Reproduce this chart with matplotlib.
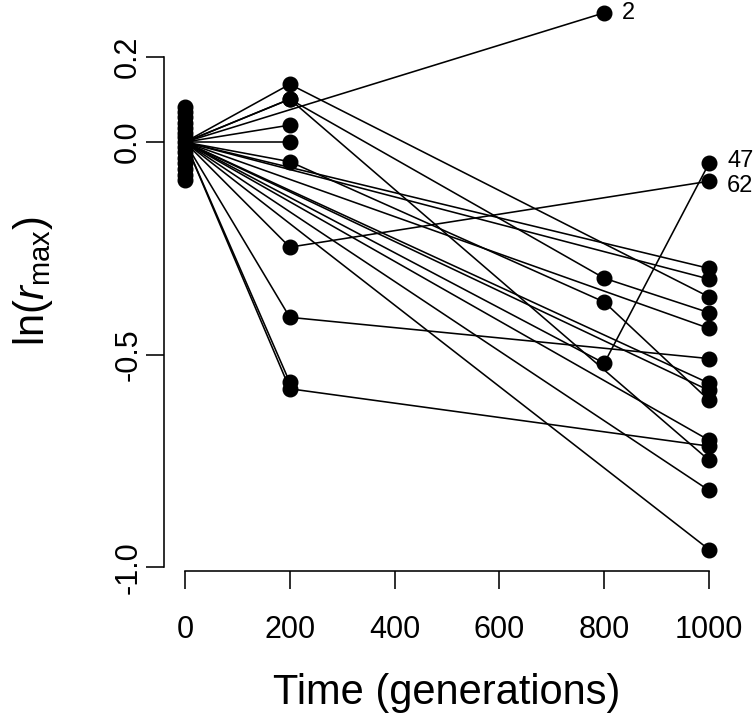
import numpy as np
import matplotlib
matplotlib.use("Agg")
import matplotlib.pyplot as plt

plt.rcParams['font.family'] = ['Liberation Sans', 'DejaVu Sans']
plt.rcParams['mathtext.fontset'] = 'custom'
plt.rcParams['mathtext.rm'] = 'Liberation Sans'
plt.rcParams['mathtext.it'] = 'Liberation Sans:italic'

# =============================================================================
# Data
# =============================================================================

# ancestor replicates at generation 0
anc_vals = [0.082, 0.071, 0.058, 0.045, 0.033, 0.022, 0.011, 0.0,
            -0.012, -0.024, -0.037, -0.050, -0.064, -0.077, -0.089]

# one entry per lineage, nan = not measured
gen200 = [np.nan, np.nan, -0.247, 0.136, 0.101, 0.101, 0.040, 0.000,
          -0.046, -0.412, -0.565, -0.580,
          np.nan, np.nan, np.nan, np.nan, np.nan, np.nan, np.nan, np.nan]
gen800 = [0.304, -0.520, np.nan, np.nan, -0.320, np.nan, np.nan, np.nan,
          -0.376, np.nan, np.nan, np.nan,
          np.nan, np.nan, np.nan, np.nan, np.nan, np.nan, np.nan, np.nan]
gen1000 = [np.nan, -0.050, -0.092, -0.364, -0.401, -0.748, np.nan, np.nan,
           -0.607, -0.509, np.nan, -0.715,
           -0.297, -0.322, -0.438, -0.567, -0.584, -0.701, -0.819, -0.958]
lineage_names = ['2', '47', '62'] + [''] * 17

times = [0, 200, 800, 1000]

# =============================================================================
# Figure
# =============================================================================

fig = plt.figure(figsize=(7.56, 7.24), dpi=100)
ax = fig.add_axes([164 / 756, 1 - 571 / 724, 566 / 756, (571 + 8.66) / 724])
ax.set_xlim(-40, 1040)
ax.set_ylim(-1.0085, 0.3545)

lw = 1.15
ms = 10.5
# small vertical nudges (pixels) so the 47/62 labels don't collide
label_dy = {'2': 0, '47': 2, '62': -5}

for i in range(len(gen1000)):
    vals = [0.0, gen200[i], gen800[i], gen1000[i]]
    tt = [t for t, v in zip(times, vals) if not np.isnan(v)]
    vv = [v for v in vals if not np.isnan(v)]
    ax.plot(tt, vv, color='black', lw=lw, zorder=2, clip_on=False)
    ax.plot(tt[1:], vv[1:], 'o', color='black', ms=ms, zorder=3, clip_on=False)
    name = lineage_names[i]
    if name:
        ax.annotate(name, (tt[-1], vv[-1]), xytext=(18, label_dy[name]),
                    textcoords='offset pixels', ha='left', va='center',
                    fontsize=17, annotation_clip=False)

ax.plot(np.zeros(len(anc_vals)), anc_vals, 'o', color='black', ms=ms,
        zorder=3, clip_on=False)

# R style axes
for s in ['top', 'right']:
    ax.spines[s].set_visible(False)
ax.spines['left'].set_bounds(-1.0, 0.2)
ax.spines['bottom'].set_bounds(0, 1000)
ax.spines['left'].set_linewidth(1.15)
ax.spines['bottom'].set_linewidth(1.15)

ax.set_xticks([0, 200, 400, 600, 800, 1000])
ax.set_yticks([-1.0, -0.5, 0.0, 0.2])
ax.set_yticklabels(['-1.0', '-0.5', '0.0', '0.2'], rotation=90, va='center')
ax.tick_params(axis='both', direction='out', length=13, width=1.15,
               labelsize=22)
ax.tick_params(axis='x', pad=19)
ax.tick_params(axis='y', pad=2)

ax.set_xlabel("Time (generations)", fontsize=30, labelpad=20)
ax.set_ylabel(r"ln($r_{\mathrm{max}}$)", fontsize=30, labelpad=42)

fig.savefig("out.png", dpi=100)
